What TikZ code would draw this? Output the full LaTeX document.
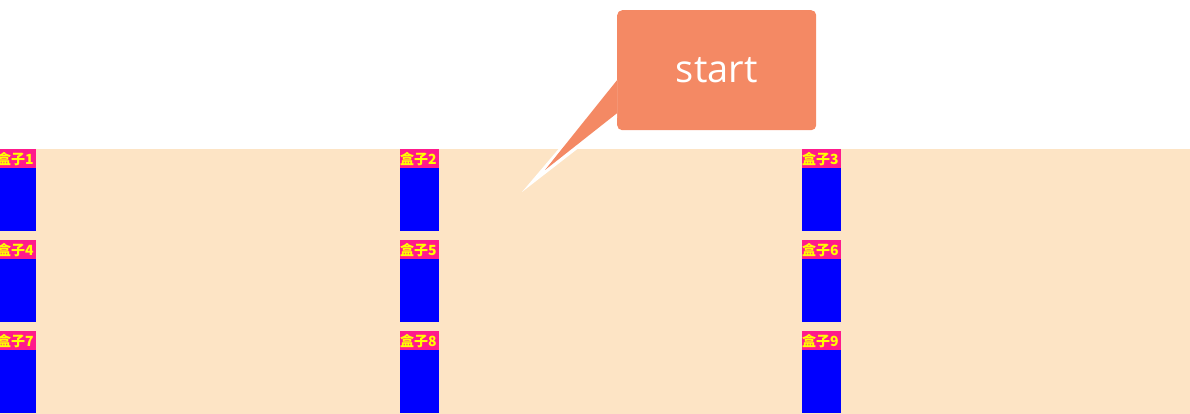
\documentclass[tikz,border=0pt]{standalone}
\usepackage{fontspec}
\setsansfont{Open Sans}
\newfontfamily\cjk{Noto Sans CJK SC}
\definecolor{pagebg}{HTML}{FDE4C5}
\definecolor{boxblue}{HTML}{0000FF}
\definecolor{headpink}{HTML}{FF1A8C}
\definecolor{labelyel}{HTML}{FFFF00}
\definecolor{tipfill}{HTML}{F48964}
\tikzset{
  % column boxes
  boxbody/.style={draw=none,fill=boxblue,minimum width=39pt,minimum height=82pt,
                  inner sep=0pt,anchor=north west},
  boxhead/.style={draw=none,fill=headpink,minimum width=39pt,minimum height=19pt,
                  inner sep=0pt,anchor=north west,text=labelyel,
                  font=\cjk\bfseries\fontsize{14}{14}\selectfont,align=left,text width=39pt},
  % speech bubble
  bubble/.style={draw=none,fill=tipfill,rounded corners=5pt,minimum width=199pt,
                 minimum height=120pt,anchor=north west,text=white,
                 font=\sffamily\fontsize{38}{38}\selectfont}
}
\begin{document}
\begin{tikzpicture}[x=1pt,y=-1pt]
  \useasboundingbox (0,0) rectangle (1190,414);
  \fill[pagebg] (0,149) rectangle (1190,414);

  % Boxes
  \foreach \r/\y in {0/149,1/240,2/331}{
    \foreach \c/\x in {0/-3,1/400,2/802}{
      \pgfmathtruncatemacro{\n}{3*\r+\c+1}
      \node[boxbody] (b\n) at (\x,\y) {};
      \node[boxhead] (h\n) at (b\n.north west) {盒子\n};
    }
  }

  % Callout
  \node[bubble] (tip) at (617,10) {\raisebox{-4pt}{start}};
  \coordinate (tail) at (522,192);
  \coordinate (tailin) at (545,170);
  \fill[white] ([yshift=-10pt]tip.west) -- ([yshift=-48pt]tip.west) -- (tail) -- cycle;
  \fill[tipfill] ([yshift=-10pt]tip.west) -- ([yshift=-43pt]tip.west) -- (tailin) -- cycle;
\end{tikzpicture}
\end{document}
